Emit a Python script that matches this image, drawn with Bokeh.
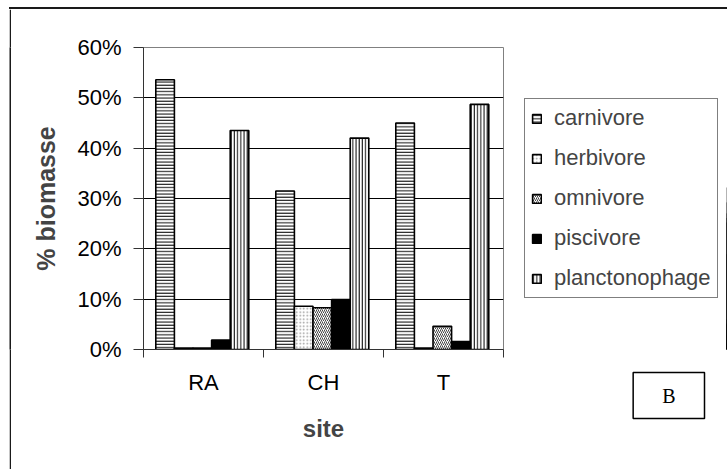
from bokeh.plotting import figure
from bokeh.layouts import row, column
from bokeh.models import (Range1d, FixedTicker, NumeralTickFormatter, Legend, LegendItem,
                          Title, ColumnDataSource, Spacer)
from bokeh.transform import dodge
from bokeh.embed import file_html
from bokeh.resources import INLINE

sites = ["RA", "CH", "T"]
groups = ["carnivore", "herbivore", "omnivore", "piscivore", "planctonophage"]
carnivore = [0.536, 0.315, 0.450]
herbivore = [0.003, 0.086, 0.003]
omnivore = [0.003, 0.083, 0.046]
piscivore = [0.019, 0.099, 0.016]
planctonophage = [0.435, 0.420, 0.487]
y_ticks = [0.0, 0.1, 0.2, 0.3, 0.4, 0.5, 0.6]
panel_tag = "B"

series = dict(carnivore=carnivore, herbivore=herbivore, omnivore=omnivore,
              piscivore=piscivore, planctonophage=planctonophage)
centers = [i + 0.5 for i in range(len(sites))]
src = ColumnDataSource(dict(x=centers, site=sites, **series))

FONT = "Liberation Sans"
H = 460
BT, BB = 38, 120   # top / bottom borders shared by both panels

p = figure(width=494, height=H, output_backend="svg", toolbar_location=None, title=None,
           x_range=Range1d(0, len(sites)), y_range=Range1d(0, 0.6),
           min_border_left=132, min_border_right=2, min_border_top=BT, min_border_bottom=BB)
p.background_fill_color = "white"
p.border_fill_color = "white"
p.outline_line_color = "#808080"
p.outline_line_width = 1

styles = {
    "carnivore": dict(fill_color="white", hatch_pattern="horizontal_line", hatch_scale=3.2, hatch_weight=1, hatch_color="black"),
    "herbivore": dict(fill_color="white", hatch_pattern="dot", hatch_scale=3.5, hatch_weight=1, hatch_color="#9a9a9a"),
    "omnivore": dict(fill_color="white", hatch_pattern="right_diagonal_line", hatch_scale=4, hatch_weight=1, hatch_color="#444444"),
    "piscivore": dict(fill_color="black"),
    "planctonophage": dict(fill_color="white", hatch_pattern="vertical_line", hatch_scale=3.2, hatch_weight=1, hatch_color="black"),
}

bw = 0.155
for k, g in enumerate(groups):
    p.vbar(x=dodge("x", (k - 2) * bw - 0.01, range=p.x_range), top=g, width=bw, source=src,
           line_color="black", line_width=1.6, **styles[g])

# y axis
p.yaxis.ticker = FixedTicker(ticks=y_ticks)
p.yaxis.formatter = NumeralTickFormatter(format="0%")
p.yaxis.major_tick_out = 10
p.yaxis.major_tick_in = 0
p.yaxis.minor_tick_line_color = None
p.yaxis.axis_line_color = "#333333"
p.yaxis.major_tick_line_color = "#333333"
p.yaxis.major_label_standoff = 12
p.yaxis.major_label_text_font = FONT
p.yaxis.major_label_text_font_size = "22px"
p.yaxis.major_label_text_color = "black"
p.yaxis.axis_label = "% biomasse"
p.yaxis.axis_label_text_font = FONT
p.yaxis.axis_label_text_font_size = "25px"
p.yaxis.axis_label_text_font_style = "bold"
p.yaxis.axis_label_standoff = 14

# x axis
p.xaxis.ticker = FixedTicker(ticks=centers, minor_ticks=[0, 1, 2, 3])
p.xaxis.major_label_overrides = {c: s for c, s in zip(centers, sites)}
p.xaxis.major_tick_line_color = None
p.xaxis.major_tick_out = 0
p.xaxis.major_tick_in = 0
p.xaxis.minor_tick_out = 8
p.xaxis.minor_tick_in = 0
p.xaxis.minor_tick_line_color = "#333333"
p.xaxis.axis_line_color = "#333333"
p.xaxis.major_label_standoff = 12
p.xaxis.major_label_text_font = FONT
p.xaxis.major_label_text_font_size = "22px"
p.xaxis.major_label_text_color = "black"
p.xaxis.axis_label = "site"
p.xaxis.axis_label_text_font = FONT
p.xaxis.axis_label_text_font_size = "24px"
p.xaxis.axis_label_text_font_style = "bold"
p.xaxis.axis_label_standoff = 17

p.xgrid.grid_line_color = None
p.ygrid.grid_line_color = "black"
p.ygrid.grid_line_width = 1
p.ygrid.ticker = FixedTicker(ticks=y_ticks)

# right-hand panel: legend inside its frame, "B" tag below its frame
p2 = figure(width=222, height=H, output_backend="svg", toolbar_location=None, title=None,
            x_axis_type=None, y_axis_type=None, x_range=Range1d(-20, -19), y_range=Range1d(0, 1),
            min_border_left=0, min_border_right=0, min_border_top=BT, min_border_bottom=BB)
p2.outline_line_color = None
p2.background_fill_color = "white"
p2.border_fill_color = "white"
p2.grid.grid_line_color = None
items = []
for g in groups:
    # same data, kept outside this panel's visible range: only the legend swatches show
    r = p2.vbar(x="x", top=g, width=bw, source=src, line_color="black", line_width=1.6, **styles[g])
    items.append(LegendItem(label=g, renderers=[r]))

legend = Legend(items=items, location=(19, 51), margin=0, padding=6, spacing=14,
                glyph_width=11, glyph_height=11, label_standoff=12,
                label_text_font=FONT, label_text_font_size="22px",
                border_line_color="black", border_line_width=1.3,
                background_fill_color="white", background_fill_alpha=1)
p2.add_layout(legend)

tag = Title(text=panel_tag, align="right", offset=23, standoff=42,
            text_font="Liberation Serif", text_font_size="20px", text_font_style="normal",
            text_color="black",
            border_line_color="black", border_line_width=1.5, background_fill_color="white",
            padding=dict(left=29, right=29, top=12, bottom=12))
p2.add_layout(tag, "below")

# outer chart-area border (left and top edges)
def line_fig(w, h):
    f = figure(width=w, height=h, output_backend="svg", toolbar_location=None, title=None,
               x_axis_type=None, y_axis_type=None, min_border=0)
    f.outline_line_color = None
    f.grid.grid_line_color = None
    f.background_fill_color = "#1a1a1a"
    f.border_fill_color = "#1a1a1a"
    return f

top_line = Spacer(width=718, height=2, styles={"background-color": "#1a1a1a"})
left_line = line_fig(2, 460)

root = column(Spacer(height=7),
              row(Spacer(width=9), top_line),
              row(Spacer(width=9), left_line, p, p2))

open("out.html", "w").write(file_html(root, INLINE))
